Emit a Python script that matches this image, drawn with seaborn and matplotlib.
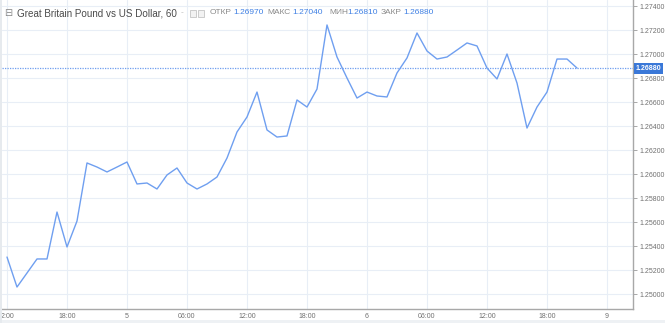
import matplotlib
matplotlib.use('Agg')
import matplotlib.pyplot as plt
import seaborn as sns
import pandas as pd
from matplotlib.patches import Rectangle

# ---- data (hourly closes) ----
prices = [1.25308, 1.25058, 1.25175, 1.25292, 1.25292, 1.25683, 1.25392, 1.25608,
          1.26092, 1.26058, 1.26017, 1.26058, 1.26100, 1.25917, 1.25925, 1.25875,
          1.25992, 1.26050, 1.25925, 1.25875, 1.25917, 1.25975, 1.26133, 1.26350,
          1.26475, 1.26683, 1.26367, 1.26308, 1.26317, 1.26617, 1.26558, 1.26708,
          1.27242, 1.26975, 1.26800, 1.26633, 1.26683, 1.26650, 1.26642, 1.26842,
          1.26967, 1.27175, 1.27025, 1.26958, 1.26975, 1.27033, 1.27092, 1.27067,
          1.26883, 1.26792, 1.27000, 1.26758, 1.26383, 1.26558, 1.26683, 1.26958,
          1.26958, 1.26883]
hours = list(range(len(prices)))
x_tick_pos = [0, 6, 12, 18, 24, 30, 36, 42, 48, 54, 60]
x_tick_labels = ["2:00", "18:00", "5", "06:00", "12:00", "18:00", "6",
                 "06:00", "12:00", "18:00", "9"]
y_ticks = [1.250, 1.252, 1.254, 1.256, 1.258, 1.260, 1.262, 1.264, 1.266,
           1.268, 1.270, 1.272, 1.274]
title = "Great Britain Pound vs US Dollar, 60"
ohlc_names = ["ОТКР", "МАКС", "МИН", "ЗАКР"]
ohlc_values = ["1.26970", "1.27040", "1.26810", "1.26880"]
last_price = 1.26880

W, H = 665, 323
LINE = '#6f9ff0'
BLUE = '#3f80e4'
GRID = '#e8eef6'
GRAY = '#707070'

sns.set_theme(style='white')
plt.rcParams['font.family'] = ['Liberation Sans', 'DejaVu Sans']

fig = plt.figure(figsize=(W / 100, H / 100), dpi=100)
fig.patch.set_facecolor('white')
# light frame strips
fig.patches.append(Rectangle((0, 0), 1, 3 / H, transform=fig.transFigure,
                             facecolor='#eef1f4', edgecolor='none', zorder=0))
fig.patches.append(Rectangle((0, 0), 2 / W, 1, transform=fig.transFigure,
                             facecolor='#e6eaee', edgecolor='none', zorder=0))

ax = fig.add_axes([2 / W, (H - 309) / H, (633 - 2) / W, 309 / H])
df = pd.DataFrame({'hour': hours, 'price': prices})
sns.lineplot(data=df, x='hour', y='price', ax=ax, color=LINE, linewidth=1.0)

ax.set_xlim(-0.5, 62.6)
ax.set_ylim(1.274 - 303 / 12000, 1.274 + 6 / 12000)

ax.set_xticks(x_tick_pos)
ax.set_xticklabels(x_tick_labels)
ax.set_yticks(y_ticks)
ax.set_yticklabels([f"{v:.5f}" for v in y_ticks])
ax.yaxis.tick_right()
ax.tick_params(axis='both', width=0.6, color='#9a9a9a',
               labelsize=5.0, labelcolor=GRAY)
ax.tick_params(axis='y', length=3, pad=1.5)
ax.tick_params(axis='x', length=2, pad=0.8)
ax.set_xlabel('')
ax.set_ylabel('')
ax.grid(True, color=GRID, linewidth=0.8)
ax.set_axisbelow(True)
for s in ['top', 'left']:
    ax.spines[s].set_visible(False)
for s in ['right', 'bottom']:
    ax.spines[s].set_color('#a8a8a8')
    ax.spines[s].set_linewidth(1.0)

# last price line and label
ax.axhline(last_price, color=LINE, linestyle=(0, (1, 1)), linewidth=0.9)
ax.annotate(f"{last_price:.5f}", xy=(1.0, last_price),
            xycoords=('axes fraction', 'data'), xytext=(2, 0),
            textcoords='offset points', va='center', ha='left',
            fontsize=5.0, color='white', fontweight='bold',
            bbox=dict(boxstyle='square,pad=0.3', facecolor='#3a78d8',
                      edgecolor='none'))

# header
ty = 1 - 13 / H
fig.text(4 / W, ty, "⊟", fontsize=7, color='#888888', va='center', ha='left',
         family=['DejaVu Sans'])
fig.text(17 / W, ty, title, fontsize=7.1, color='#4a4a4a', va='center',
         ha='left', family=['Liberation Sans Narrow', 'Liberation Sans'])
fig.text(181 / W, ty, "-", fontsize=6, color='#bbbbbb', va='center', ha='left')
for x0 in (190, 198):
    fig.patches.append(Rectangle((x0 / W, 1 - 17 / H), 6 / W, 7 / H,
                                 transform=fig.transFigure, facecolor='#f2f2f2',
                                 edgecolor='#c4c4c4', linewidth=0.6))
name_x = [210, 267, 329, 381]
val_x = [233, 292, 347, 403]
for nx, vx, n, v in zip(name_x, val_x, ohlc_names, ohlc_values):
    fig.text(nx / W, ty, n, fontsize=6.0, color='#8a8a8a', va='center', ha='left')
    fig.text(vx / W, ty, v, fontsize=6.0, color=BLUE, va='center', ha='left')

fig.savefig('out.png', dpi=100)
